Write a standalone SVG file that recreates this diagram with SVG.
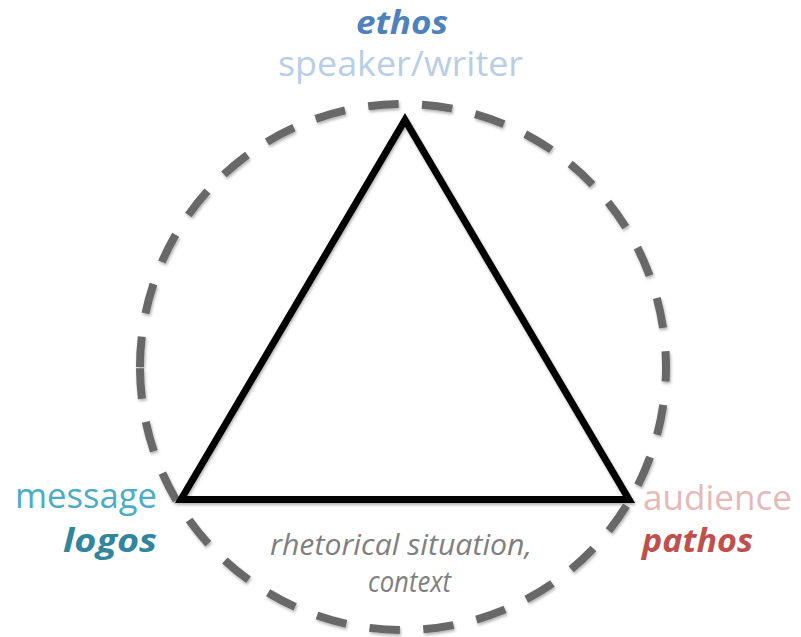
<svg xmlns="http://www.w3.org/2000/svg" width="801" height="637" viewBox="0 0 801 637">
  <defs>
    <filter id="soft-shadow" x="-10%" y="-10%" width="120%" height="120%">
      <feDropShadow dx="1" dy="2" stdDeviation="1.5" flood-color="#000" flood-opacity="0.3"/>
    </filter>
    <style>
      text { font-family: "Open Sans", "Noto Sans", "DejaVu Sans", sans-serif; }
      .label { font-size: 34px; }
      .appeal { font-size: 32px; font-weight: bold; font-style: italic; }
      .context { font-size: 29px; font-style: italic; fill: #808080; }
      .situation { fill: none; stroke: #686868; stroke-width: 8; stroke-dasharray: 30.5 23.5; }
      .triangle { fill: none; stroke: #000; stroke-width: 7; stroke-linejoin: miter; stroke-miterlimit: 10; }
    </style>
  </defs>
  <rect width="801" height="637" fill="#fff"/>

  <!-- connectors: the situation circle and the rhetorical triangle -->
  <g id="connectors" filter="url(#soft-shadow)">
    <path class="situation" d="M 140 367 A 263 263 0 1 1 666 367 A 263 263 0 1 1 140 367"/>
    <polygon class="triangle" points="405,120 629,499.5 181,499.5"/>
  </g>

  <g id="ethos">
    <text class="appeal" x="402" y="34" text-anchor="middle" fill="#4F81BD" textLength="92" lengthAdjust="spacingAndGlyphs">ethos</text>
    <text class="label" x="400.5" y="76" text-anchor="middle" fill="#B9CDE5" textLength="245" lengthAdjust="spacingAndGlyphs">speaker/writer</text>
  </g>

  <g id="logos">
    <text class="label" x="157" y="508" text-anchor="end" fill="#4BACC6" textLength="142" lengthAdjust="spacingAndGlyphs">message</text>
    <text class="appeal" x="157" y="552" text-anchor="end" fill="#31859C" textLength="94" lengthAdjust="spacingAndGlyphs">logos</text>
  </g>

  <g id="pathos">
    <text class="label" x="643" y="510" fill="#E6B9B8" textLength="149" lengthAdjust="spacingAndGlyphs">audience</text>
    <text class="appeal" x="642" y="552" fill="#C0504D" textLength="111" lengthAdjust="spacingAndGlyphs">pathos</text>
  </g>

  <g id="context">
    <text class="context" x="401" y="555" text-anchor="middle" textLength="262" lengthAdjust="spacingAndGlyphs">rhetorical situation,</text>
    <text class="context" x="409.5" y="592" text-anchor="middle" textLength="83" lengthAdjust="spacingAndGlyphs">context</text>
  </g>
</svg>
